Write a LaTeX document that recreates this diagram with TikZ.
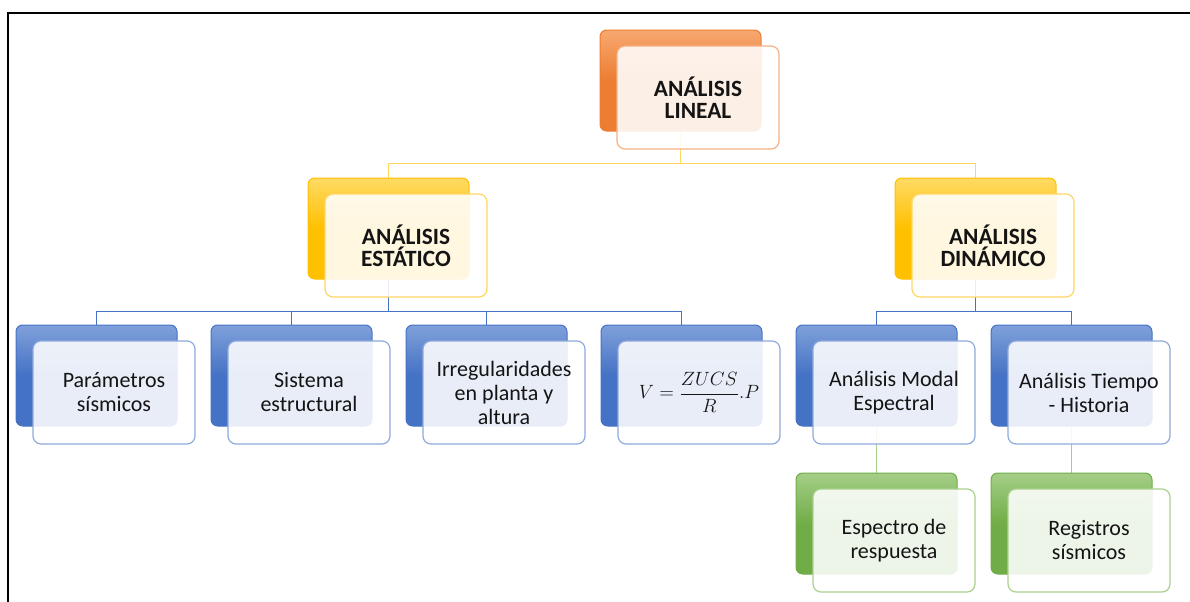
\documentclass[tikz,border=0pt]{standalone}
\usepackage{fontspec}
\usepackage{amsmath}
\setmainfont{Carlito}
\usetikzlibrary{backgrounds}
\definecolor{orbase}{RGB}{237,125,49}
\definecolor{orlight}{RGB}{247,168,112}
\definecolor{orline}{RGB}{244,177,131}
\definecolor{ylbase}{RGB}{255,192,0}
\definecolor{yllight}{RGB}{255,218,100}
\definecolor{ylline}{RGB}{255,214,100}
\definecolor{blbase}{RGB}{68,114,196}
\definecolor{bllight}{RGB}{128,160,218}
\definecolor{blline}{RGB}{143,170,220}
\definecolor{grbase}{RGB}{112,173,71}
\definecolor{grlight}{RGB}{165,206,136}
\definecolor{grline}{RGB}{169,209,142}
\definecolor{txt}{RGB}{20,20,20}
\tikzset{every picture/.style={line width=0.75pt}}
\tikzset{
  back/.style={rounded corners=5pt, inner sep=0pt, minimum width=120.75pt, minimum height=75.75pt},
  front/.style={rounded corners=6pt, inner sep=0pt, minimum width=121.5pt, minimum height=77.25pt,
    fill=white, fill opacity=0.88, text opacity=1, text=txt, align=center, line width=0.9pt,
    font=\fontsize{16.5}{18}\selectfont},
  head/.style={font=\fontsize{17.5}{16.5}\selectfont\bfseries},
  orback/.style={back, draw=orbase, top color=orlight, bottom color=orbase, middle color=orbase},
  ylback/.style={back, draw=ylbase, top color=yllight, bottom color=ylbase, middle color=ylbase},
  blback/.style={back, draw=blbase, top color=bllight, bottom color=blbase, middle color=blbase},
  grback/.style={back, draw=grbase, top color=grlight, bottom color=grbase, middle color=grbase},
  ylink/.style={draw=ylline, line width=1.1pt},
  bllink/.style={draw=blbase, line width=1.1pt},
  grlink/.style={draw=grlight, line width=1.3pt}
}
\begin{document}
\begin{tikzpicture}[x=0.75pt,y=0.75pt,yscale=-1,xscale=1]
\useasboundingbox (0,0) rectangle (1190,601);

% Frame
\draw [line width=1.1pt] (8,610) -- (8,13) -- (1200,13);

% Level 0
\node [orback] (lineal-b) at (680.5,80.5) {};
\node [front, draw=orline, head] (lineal) at (698,97.5) {ANÁLISIS\\LINEAL};

% Level 1
\node [ylback] (estatico-b) at (388.5,228.5) {};
\node [front, draw=ylline, head] (estatico) at (406,245.5) {ANÁLISIS\\ESTÁTICO};
\node [ylback] (dinamico-b) at (975.5,228.5) {};
\node [front, draw=ylline, head] (dinamico) at (993,245.5) {ANÁLISIS\\DINÁMICO};

% Level 2
\node [blback] (parametros-b) at (96.5,375.5) {};
\node [front, draw=blline] (parametros) at (114,392.5) {Parámetros\\sísmicos};
\node [blback] (sistema-b) at (291.5,375.5) {};
\node [front, draw=blline] (sistema) at (309,392.5) {Sistema\\estructural};
\node [blback] (irreg-b) at (486.5,375.5) {};
\node [front, draw=blline] (irreg) at (504,392.5) {Irregularidades\\en planta y\\altura};
\node [blback] (cortante-b) at (681.5,375.5) {};
\node [front, draw=blline, font=\fontsize{13.5}{16}\selectfont] (cortante) at (699,392.5) {$V=\dfrac{ZUCS}{R}.P$};
\node [blback] (modal-b) at (876.5,375.5) {};
\node [front, draw=blline] (modal) at (894,392.5) {Análisis Modal\\Espectral};
\node [blback] (tiempo-b) at (1071.5,375.5) {};
\node [front, draw=blline] (tiempo) at (1089,392.5) {Análisis Tiempo\\- Historia};

% Level 3
\node [grback] (espectro-b) at (876.5,523.5) {};
\node [front, draw=grline] (espectro) at (894,540.5) {Espectro de\\respuesta};
\node [grback] (registros-b) at (1071.5,523.5) {};
\node [front, draw=grline] (registros) at (1089,540.5) {Registros\\sísmicos};

% Connectors
\begin{scope}[on background layer]
\draw [ylink] (lineal-b.south) -- ++(0,32) -| (estatico-b.north);
\draw [ylink] (lineal-b.south) -- ++(0,32) -| (dinamico-b.north);
\foreach \n in {parametros,sistema,irreg,cortante}
  \draw [bllink] (estatico-b.south) -- ++(0,32) -| (\n-b.north);
\foreach \n in {modal,tiempo}
  \draw [bllink] (dinamico-b.south) -- ++(0,32) -| (\n-b.north);
\draw [grlink] (modal-b.south) -- (espectro-b.north);
\draw [grlink] (tiempo-b.south) -- (registros-b.north);
\end{scope}

\end{tikzpicture}
\end{document}
